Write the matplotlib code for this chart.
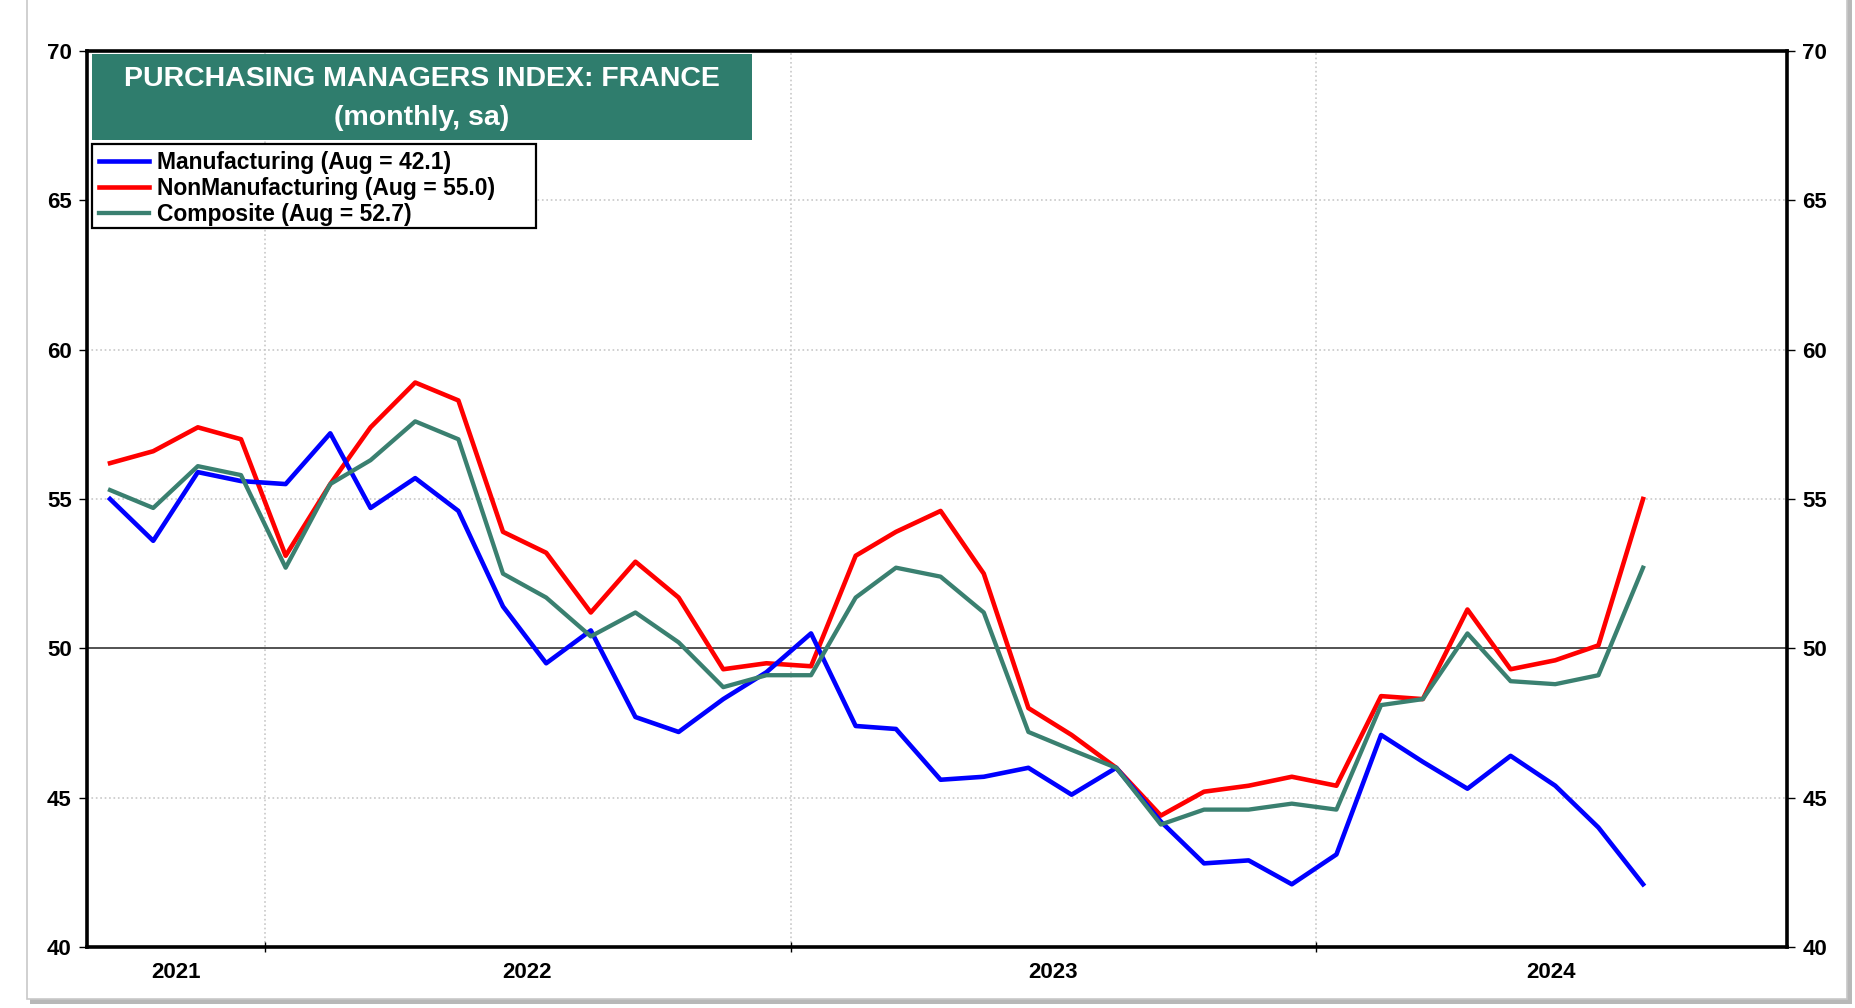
import matplotlib
matplotlib.use("Agg")
import matplotlib.pyplot as plt
import matplotlib.dates as mdates
from matplotlib.patches import Rectangle
import pandas as pd

plt.rcParams['font.family'] = ['Liberation Sans', 'DejaVu Sans']
plt.rcParams['font.weight'] = 'bold'

# dane miesieczne, wrzesien 2021 - sierpien 2024
months = pd.date_range('2021-09-01', '2024-08-01', freq='MS') + pd.Timedelta(days=14)

manufacturing = [55.0, 53.6, 55.9, 55.6, 55.5, 57.2, 54.7, 55.7, 54.6, 51.4, 49.5, 50.6,
                 47.7, 47.2, 48.3, 49.2, 50.5, 47.4, 47.3, 45.6, 45.7, 46.0, 45.1, 46.0,
                 44.2, 42.8, 42.9, 42.1, 43.1, 47.1, 46.2, 45.3, 46.4, 45.4, 44.0, 42.1]
non_manufacturing = [56.2, 56.6, 57.4, 57.0, 53.1, 55.5, 57.4, 58.9, 58.3, 53.9, 53.2, 51.2,
                     52.9, 51.7, 49.3, 49.5, 49.4, 53.1, 53.9, 54.6, 52.5, 48.0, 47.1, 46.0,
                     44.4, 45.2, 45.4, 45.7, 45.4, 48.4, 48.3, 51.3, 49.3, 49.6, 50.1, 55.0]
composite = [55.3, 54.7, 56.1, 55.8, 52.7, 55.5, 56.3, 57.6, 57.0, 52.5, 51.7, 50.4,
             51.2, 50.2, 48.7, 49.1, 49.1, 51.7, 52.7, 52.4, 51.2, 47.2, 46.6, 46.0,
             44.1, 44.6, 44.6, 44.8, 44.6, 48.1, 48.3, 50.5, 48.9, 48.8, 49.1, 52.7]

year_labels = ['2021', '2022', '2023', '2024']
year_label_pos = pd.to_datetime(['2021-10-31', '2022-07-02', '2023-07-02', '2024-06-12'])
year_starts = pd.to_datetime(['2022-01-01', '2023-01-01', '2024-01-01'])

teal = '#2f7d6d'

fig = plt.figure(figsize=(18.56, 10.08), dpi=100)

# ramka wokol calego wykresu (z cieniem)
fig.patches.append(Rectangle((30 / 1856, 4 / 1008), 1822 / 1856, 1.1, transform=fig.transFigure,
                             facecolor='#b8b8b8', edgecolor='none', zorder=-3))
fig.patches.append(Rectangle((27 / 1856, 9 / 1008), 1820 / 1856, 1.1, transform=fig.transFigure,
                             facecolor='white', edgecolor='#c8c8c8', lw=1.2, zorder=-2))

ax = fig.add_axes([87 / 1856, 61 / 1008, 1700 / 1856, 896 / 1008])
ax.set_facecolor('none')

ax.plot(months, manufacturing, color='#0000ff', lw=3.3, label='Manufacturing (Aug = 42.1)', zorder=4)
ax.plot(months, non_manufacturing, color='#ff0000', lw=3.3, label='NonManufacturing (Aug = 55.0)', zorder=3)
ax.plot(months, composite, color='#3a8070', lw=3.1, label='Composite (Aug = 52.7)', zorder=5)

ax.axhline(50, color='#444444', lw=1.3, zorder=2)

ax.set_ylim(40, 70)
ax.set_xlim(pd.Timestamp('2021-08-30'), pd.Timestamp('2024-11-23'))

ax.set_yticks(range(40, 71, 5))
ax.tick_params(axis='y', which='both', left=True, right=True, labelleft=True, labelright=True,
               length=6, width=1, direction='out', labelsize=16, pad=5)
for y in [45, 55, 60, 65]:
    ax.axhline(y, color='#c8c8c8', lw=1.2, ls=':', zorder=1)

ax.set_xticks(year_starts)
ax.set_xticklabels([])
ax.set_xticks(year_label_pos, minor=True)
ax.set_xticklabels(year_labels, minor=True)
ax.tick_params(axis='x', which='major', length=7, width=1, direction='inout')
ax.tick_params(axis='x', which='minor', length=0, labelsize=16, pad=11)
for d in year_starts:
    ax.axvline(d, color='#c8c8c8', lw=1.2, ls=':', zorder=1)

for s in ax.spines.values():
    s.set_linewidth(2.6)
    s.set_color('black')

# tytul w zielonym prostokacie
ax.add_patch(Rectangle((0.003, 0.9007), 0.388, 0.096, transform=ax.transAxes,
                       facecolor=teal, edgecolor='none', zorder=6))
ax.text(0.197, 0.969, 'PURCHASING MANAGERS INDEX: FRANCE', transform=ax.transAxes,
        ha='center', va='center', color='white', fontsize=20.5, fontweight='bold', zorder=7)
ax.text(0.197, 0.925, '(monthly, sa)', transform=ax.transAxes,
        ha='center', va='center', color='white', fontsize=20.5, fontweight='bold', zorder=7)

# ramka legendy rysowana osobno (szersza niz tekst)
ax.add_patch(Rectangle((0.003, 0.8025), 0.261, 0.0935, transform=ax.transAxes,
                       facecolor='white', edgecolor='black', lw=1.6, zorder=7))
leg = ax.legend(loc='upper left', bbox_to_anchor=(0.003, 0.896), borderaxespad=0,
                frameon=False, fontsize=16.5,
                handlelength=2.2, handletextpad=0.35, labelspacing=0.12, borderpad=0.3)
leg.set_zorder(8)

fig.savefig('out.png', dpi=100)
